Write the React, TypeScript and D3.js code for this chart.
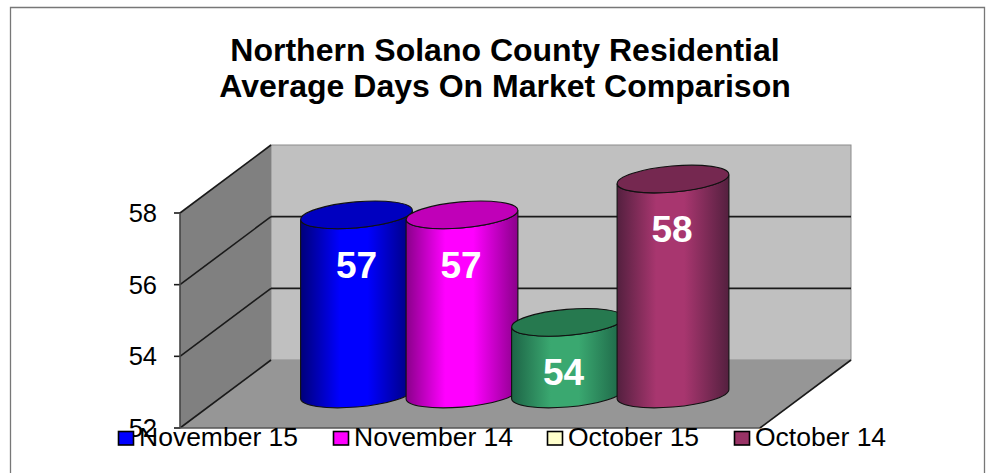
import * as d3 from "d3";

const seriesNames = ["November 15", "November 14", "October 15", "October 14"];
const values = [57, 57, 54, 58];
const valueLabels = ["57", "57", "54", "58"];
const labelNudge = [0, -1, -4, -1];
const barEdge = ["#00007a", "#8a008a", "#1d6446", "#54203f"];
const barMid = ["#0000ff", "#ff00ff", "#3aa870", "#a8366f"];
const barTop = ["#0000c0", "#c000b8", "#26794f", "#752850"];
const legendColors = ["#0000ff", "#ff00ff", "#ffffcc", "#993366"];
const legendX = [118, 333, 547, 734];
const ticks = [52, 54, 56, 58];
const titleLines = [
  "Northern Solano County Residential",
  "Average Days On Market Comparison",
];

const FONT = "'Liberation Sans', Arial, sans-serif";

// box corners: front plane of the axis, and the back wall
const frontX = 180;
const backX = 271;
const backRight = 851;
const frontRight = 760;

const yFront = d3.scaleLinear().domain([52, 58]).range([428, 213]);
const yBack = d3.scaleLinear().domain([52, 58]).range([360, 145]);
const yBar = d3.scaleLinear().domain([52, 58]).range([394, 179]);
const xBar = d3
  .scalePoint<string>()
  .domain(seriesNames)
  .range([356.5, 673]);

// tilted ellipse of the cylinder caps
const RX = 56;
const RY = 13;
const TILT = -5;
const sideX = 55.9;
const sideY = 4.6;

function bodyPath(cx: number, top: number, bottom: number) {
  return (
    `M${cx - sideX},${top + sideY}` +
    `L${cx - sideX},${bottom + sideY}` +
    `A${RX},${RY} ${TILT} 0 0 ${cx + sideX},${bottom - sideY}` +
    `L${cx + sideX},${top - sideY}` +
    `A${RX},${RY} ${TILT} 0 1 ${cx - sideX},${top + sideY}Z`
  );
}

export default function App() {
  const floor = d3.path();
  floor.moveTo(backX, yBack(52));
  floor.lineTo(backRight, yBack(52));
  floor.lineTo(frontRight, yFront(52));
  floor.lineTo(frontX, yFront(52));
  floor.closePath();

  const wall = d3.path();
  wall.moveTo(frontX, yFront(58));
  wall.lineTo(backX, yBack(58));
  wall.lineTo(backX, yBack(52));
  wall.lineTo(frontX, yFront(52));
  wall.closePath();

  return (
    <svg
      width={986}
      height={473}
      style={{ position: "absolute", left: 0, top: 0, display: "block" }}
      fontFamily={FONT}
    >
      <defs>
        {seriesNames.map((s, i) => (
          <linearGradient id={`bar${i}`} key={s} x1="0" x2="1" y1="0" y2="0">
            <stop offset="0" stopColor={barEdge[i]} />
            <stop offset="0.35" stopColor={barMid[i]} />
            <stop offset="0.6" stopColor={barMid[i]} />
            <stop offset="1" stopColor={barEdge[i]} />
          </linearGradient>
        ))}
      </defs>

      <rect width={986} height={473} fill="#fff" />
      <path d="M10.5,473V7.5H984.5V473" fill="none" stroke="#777" strokeWidth={1.3} />

      <g fontSize={32} fontWeight="bold" textAnchor="middle" fill="#000">
        {titleLines.map((t, i) => (
          <text key={t} x={505} y={61 + i * 36}>
            {t}
          </text>
        ))}
      </g>

      {/* walls and floor */}
      <rect
        x={backX}
        y={yBack(58)}
        width={backRight - backX}
        height={yBack(52) - yBack(58)}
        fill="#c0c0c0"
        stroke="#8c8c8c"
      />
      <path d={wall.toString()} fill="#808080" />
      <path d={floor.toString()} fill="#969696" />

      {/* gridlines */}
      <g stroke="#1a1a1a" strokeWidth={1.6} fill="none">
        {ticks.map((t) => (
          <g key={t}>
            <line x1={frontX} y1={yFront(t)} x2={backX} y2={yBack(t)} />
            {t > 52 && t < 58 && (
              <line x1={backX} y1={yBack(t)} x2={backRight} y2={yBack(t)} />
            )}
            <line x1={frontX - 6} y1={yFront(t)} x2={frontX} y2={yFront(t)} />
          </g>
        ))}
        <line x1={frontX} y1={yFront(58)} x2={frontX} y2={yFront(52)} stroke="#444" />
        <line x1={frontX} y1={yFront(52)} x2={frontRight} y2={yFront(52)} stroke="#555" />
        <line x1={frontRight} y1={yFront(52)} x2={backRight} y2={yBack(52)} />
      </g>

      {/* cylinders, later ones on top */}
      {seriesNames.map((s, i) => {
        const cx = xBar(s) as number;
        const top = yBar(values[i]);
        const bottom = yBar(52);
        return (
          <g key={s} stroke="#111" strokeWidth={1.1}>
            <path d={bodyPath(cx, top, bottom)} fill={`url(#bar${i})`} />
            <ellipse
              cx={cx}
              cy={top}
              rx={RX}
              ry={RY}
              transform={`rotate(${TILT} ${cx} ${top})`}
              fill={barTop[i]}
            />
          </g>
        );
      })}

      <g fontSize={37} fontWeight="bold" fill="#fff" textAnchor="middle">
        {seriesNames.map((s, i) => (
          <text key={s} x={(xBar(s) as number) + labelNudge[i]} y={yBar(values[i]) + 63}>
            {valueLabels[i]}
          </text>
        ))}
      </g>

      <g fontSize={25.5} fill="#000" textAnchor="end">
        {ticks.map((t) => (
          <text key={t} x={157} y={yFront(t) + 9}>
            {t}
          </text>
        ))}
      </g>

      {/* legend */}
      <g fontSize={26.5} fill="#000">
        {seriesNames.map((s, i) => (
          <g key={s}>
            <rect
              x={legendX[i] + 0.5}
              y={431.5}
              width={15}
              height={13.5}
              fill={legendColors[i]}
              stroke="#000"
              strokeWidth={1.6}
            />
            <text x={legendX[i] + 21} y={446}>
              {s}
            </text>
          </g>
        ))}
      </g>
    </svg>
  );
}
